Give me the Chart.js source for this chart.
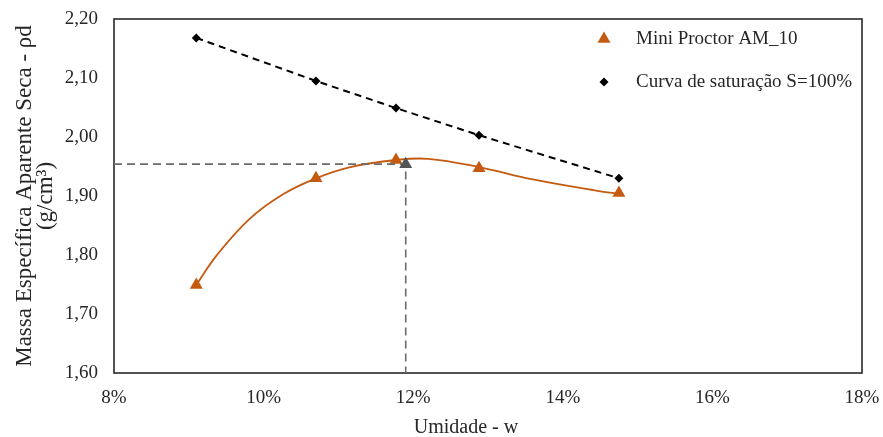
<!DOCTYPE html>
<html><head><meta charset="utf-8">
<script src="https://cdn.jsdelivr.net/npm/chart.js@4/dist/chart.umd.min.js"></script>
<style>html,body{margin:0;padding:0;background:#fff}#wrap{width:883px;height:437px}</style>
</head><body><div id="wrap"><canvas id="c" width="883" height="437"></canvas></div>
<script>
// ---- data ----
const umidade = [9.10, 10.70, 11.77, 12.88, 14.75];          // %
const massaProctor = [1.749, 1.930, 1.961, 1.947, 1.905];    // g/cm3
const massaSaturacao = [2.168, 2.095, 2.049, 2.003, 1.930];  // g/cm3
// trend curve (polynomial trendline)
const umidadeTendencia = [9.10, 9.37, 9.82, 10.26, 10.70, 11.16, 11.77, 12.20, 12.88, 13.60, 14.50, 14.75];
const massaTendencia   = [1.749, 1.799, 1.862, 1.903, 1.930, 1.949, 1.961, 1.963, 1.949, 1.928, 1.908, 1.904];
const umidadeOtima = 11.90;
const massaMaxima = 1.954;
const xTicks = [8, 10, 12, 14, 16, 18];
const yTicks = [1.60, 1.70, 1.80, 1.90, 2.00, 2.10, 2.20];
const serieLabels = ['Mini Proctor AM_10', 'Curva de saturação S=100%'];
const xTitle = 'Umidade - w';
const yTitle = ['Massa Específica Aparente Seca - ρd', '(g/cm³)'];

const FONT = "'Liberation Serif', 'Times New Roman', serif";
const ORANGE = '#C55A11';
const TXT = '#262626';

const borderPlugin = {
  id: 'plotBorder',
  beforeDatasetsDraw(chart) {
    const {ctx, chartArea: a} = chart;
    ctx.save();
    ctx.strokeStyle = '#1a1a1a';
    ctx.lineWidth = 1.5;
    ctx.strokeRect(a.left, a.top, a.right - a.left, a.bottom - a.top);
    ctx.restore();
  }
};

const innerLegend = {
  id: 'innerLegend',
  afterDraw(chart) {
    const {ctx, chartArea: a} = chart;
    ctx.save();
    const mx = a.right - 258, tx = a.right - 226;
    [0, 1].forEach((di, k) => {
      const ds = chart.data.datasets[di];
      const y = a.top + 20 + k * 43;
      ctx.fillStyle = ds.pointBackgroundColor;
      ctx.strokeStyle = ds.pointBackgroundColor;
      Chart.helpers.drawPoint(ctx, {pointStyle: ds.pointStyle, radius: ds.pointRadius, rotation: 0, borderWidth: 0}, mx, y);
      ctx.fillStyle = TXT;
      ctx.font = "19px " + FONT;
      ctx.textBaseline = 'middle';
      ctx.textAlign = 'left';
      ctx.fillText(ds.label, tx, y);
    });
    // x-axis title
    ctx.font = "20px " + FONT;
    ctx.textAlign = 'center';
    ctx.textBaseline = 'middle';
    ctx.fillStyle = TXT;
    ctx.fillText(xTitle, (a.left + a.right) / 2 - 22, 428);
    ctx.restore();
  }
};

new Chart(document.getElementById('c'), {
  type: 'scatter',
  data: {
    datasets: [
      {
        label: serieLabels[0],
        data: umidade.map((x, i) => ({x, y: massaProctor[i]})),
        showLine: false,
        pointStyle: 'triangle', pointRadius: 7.5, pointHoverRadius: 7.5,
        pointBackgroundColor: ORANGE, pointBorderColor: ORANGE, pointBorderWidth: 0,
        order: 1
      },
      {
        label: serieLabels[1],
        data: umidade.map((x, i) => ({x, y: massaSaturacao[i]})),
        showLine: true, tension: 0,
        borderColor: '#000', borderWidth: 2, borderDash: [7, 5],
        pointStyle: 'rectRot', pointRadius: 4.5, pointHoverRadius: 4.5,
        pointBackgroundColor: '#000', pointBorderColor: '#000', pointBorderWidth: 0,
        order: 3
      },
      {
        label: 'tendência',
        data: umidadeTendencia.map((x, i) => ({x, y: massaTendencia[i]})),
        showLine: true, tension: 0.4,
        borderColor: ORANGE, borderWidth: 1.8,
        pointRadius: 0, pointHoverRadius: 0,
        order: 2
      },
      {
        label: 'ótimo',
        data: [{x: xTicks[0], y: massaMaxima}, {x: umidadeOtima, y: massaMaxima}, {x: umidadeOtima, y: yTicks[0]}],
        showLine: true, tension: 0,
        borderColor: '#6b6b6b', borderWidth: 1.6, borderDash: [8, 5],
        pointStyle: 'triangle', pointRadius: [0, 7.5, 0], pointHoverRadius: [0, 7.5, 0],
        pointBackgroundColor: '#555555', pointBorderColor: '#555555', pointBorderWidth: 0,
        order: 0
      }
    ]
  },
  options: {
    responsive: false,
    animation: false,
    devicePixelRatio: 1,
    layout: {padding: {top: 19, right: 21, left: 0, bottom: 0}},
    plugins: {legend: {display: false}, tooltip: {enabled: false}},
    scales: {
      x: {
        type: 'linear', min: xTicks[0], max: xTicks[xTicks.length - 1],
        grid: {display: false, drawTicks: false},
        border: {display: false},
        afterBuildTicks: s => { s.ticks = xTicks.map(v => ({value: v})); },
        afterFit: s => { s.height = 64; s.paddingLeft = 0; s.paddingRight = 0; },
        ticks: {
          padding: 14, autoSkip: false, maxRotation: 0, color: TXT,
          font: {family: FONT, size: 19},
          callback: v => v + '%'
        },
        title: {display: false}
      },
      y: {
        min: yTicks[0], max: yTicks[yTicks.length - 1],
        grid: {display: false, drawTicks: false},
        border: {display: false},
        afterBuildTicks: s => { s.ticks = yTicks.map(v => ({value: v})); },
        afterFit: s => { s.width = 114; s.paddingTop = 0; s.paddingBottom = 0; },
        ticks: {
          padding: 16, autoSkip: false, color: TXT,
          font: {family: FONT, size: 19},
          callback: v => Number(v).toFixed(2).replace('.', ',')
        },
        title: {
          display: true, text: yTitle, color: TXT,
          font: {family: FONT, size: 23, lineHeight: 0.92},
          padding: {top: 14.4, bottom: 0}
        }
      }
    }
  },
  plugins: [borderPlugin, innerLegend]
});
</script>
</body></html>
